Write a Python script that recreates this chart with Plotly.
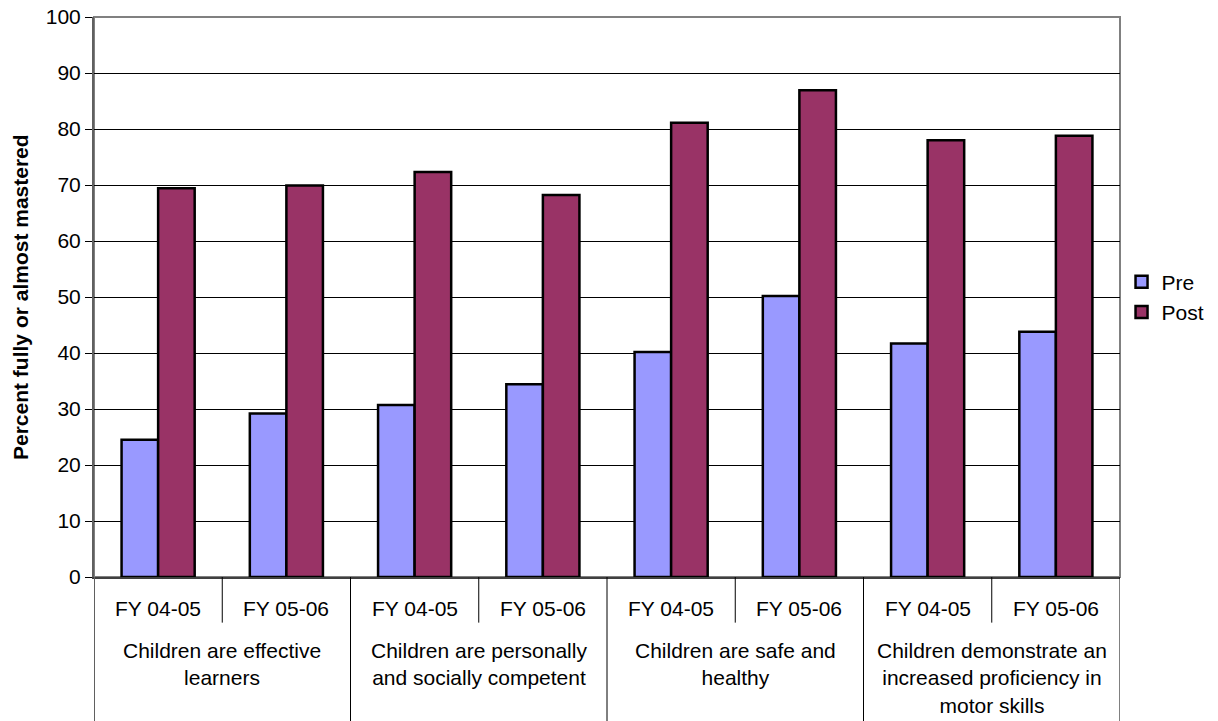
import plotly.graph_objects as go

# Outcome groups and fiscal years (inner category level)
groups = [
    "Children are effective<br>learners",
    "Children are personally<br>and socially competent",
    "Children are safe and<br>healthy",
    "Children demonstrate an<br>increased proficiency in<br>motor skills",
]
years = ["FY 04-05", "FY 05-06"]

# Percent fully or almost mastered, in group/year order
pre = [24.5, 29.2, 30.7, 34.4, 40.2, 50.2, 41.7, 43.8]
post = [69.4, 69.9, 72.3, 68.2, 81.1, 86.9, 78.0, 78.8]

y_ticks = list(range(0, 101, 10))

n_years = len(years)
positions = [g * n_years + j for g in range(len(groups)) for j in range(n_years)]
n_cats = len(positions)

FONT = "Arial, 'Liberation Sans', sans-serif"
FS = 21

fig = go.Figure()
fig.add_trace(go.Bar(
    x=positions, y=pre, name="Pre",
    marker=dict(color="#9999FF", line=dict(color="#000000", width=2.5)),
))
fig.add_trace(go.Bar(
    x=positions, y=post, name="Post",
    marker=dict(color="#993366", line=dict(color="#000000", width=2.5)),
))

shapes = []
# plot area border
shapes.append(dict(type="rect", xref="x domain", yref="y domain", x0=0, x1=1, y0=0, y1=1,
                   line=dict(color="#808080", width=2), layer="below"))
# dividers between fiscal years inside a group
for g in range(len(groups)):
    for j in range(1, n_years):
        xv = g * n_years + j - 0.5
        shapes.append(dict(type="line", xref="x", yref="paper", x0=xv, x1=xv,
                           y0=0, y1=-0.0815, line=dict(color="#000000", width=1)))
# dividers between groups, running to the bottom edge
for g in range(len(groups) + 1):
    xv = g * n_years - 0.5
    col = "#606060" if g == 0 else "#000000"
    wid = 2 if g == 0 else 1
    shapes.append(dict(type="line", xref="x", yref="paper", x0=xv, x1=xv,
                       y0=0, y1=-0.26, line=dict(color=col, width=wid)))

annotations = []
for p in positions:
    annotations.append(dict(text=years[p % n_years], x=p, y=-0.0554, xref="x", yref="paper",
                            xanchor="center", yanchor="middle", showarrow=False,
                            font=dict(family=FONT, size=FS, color="#000000")))
for g, label in enumerate(groups):
    annotations.append(dict(text=label, x=g * n_years + (n_years - 1) / 2, y=-0.108,
                            xref="x", yref="paper", xanchor="center", yanchor="top",
                            showarrow=False, align="center",
                            font=dict(family=FONT, size=FS, color="#000000")))
annotations.append(dict(text="<b>Percent fully or almost mastered</b>", textangle=-90,
                        x=(20 - 94) / 1026, y=0.5, xref="paper", yref="paper",
                        xanchor="center", yanchor="middle", showarrow=False,
                        font=dict(family=FONT, size=FS, color="#000000")))

fig.update_layout(
    width=1218, height=721,
    margin=dict(l=94, r=98, t=17, b=144, autoexpand=False),
    paper_bgcolor="#FFFFFF", plot_bgcolor="#FFFFFF",
    barmode="group", bargap=0.43, bargroupgap=0,
    font=dict(family=FONT, size=FS, color="#000000"),
    showlegend=True,
    legend=dict(x=0.0015 + 1.0, y=0.5, xanchor="left", yanchor="middle",
                font=dict(family=FONT, size=FS, color="#000000"),
                itemwidth=30, tracegroupgap=0, bgcolor="rgba(0,0,0,0)"),
    xaxis=dict(range=[-0.5, n_cats - 0.5], showticklabels=False, showgrid=False,
               zeroline=False, showline=True, linecolor="#404040", linewidth=2,
               ticks=""),
    yaxis=dict(range=[0, 100], tickvals=y_ticks, showgrid=True, gridcolor="#000000",
               gridwidth=1, zeroline=False, showline=True, linecolor="#606060",
               linewidth=2, ticks="outside", ticklen=7, tickcolor="#000000",
               tickwidth=1, tickfont=dict(family=FONT, size=FS, color="#000000")),
    shapes=shapes,
    annotations=annotations,
)

fig.write_html("out.html")
